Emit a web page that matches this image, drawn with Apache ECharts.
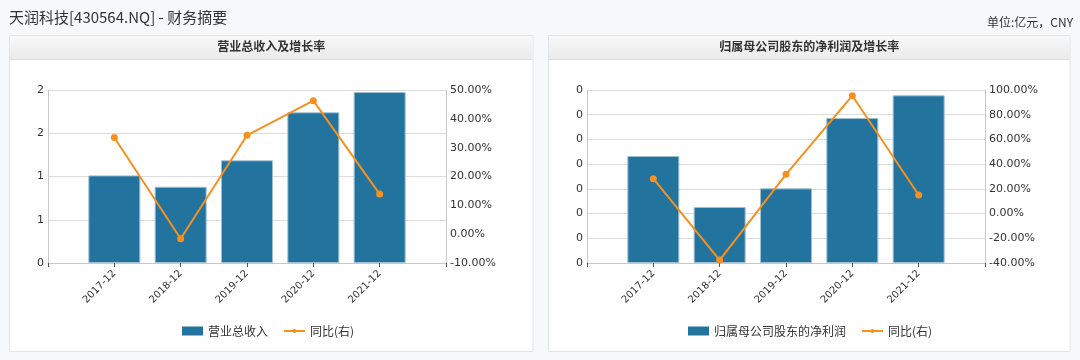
<!DOCTYPE html>
<html><head><meta charset="utf-8">
<script src="https://cdn.jsdelivr.net/npm/echarts@6/dist/echarts.min.js"></script>
<style>html,body{margin:0;padding:0;background:#f6f8fa}#c{width:1080px;height:360px}</style>
</head><body><div id="c"></div>
<script>
// ---- data ----
const years = ['2017-12', '2018-12', '2019-12', '2020-12', '2021-12'];
const revenue = [1.013, 0.882, 1.187, 1.742, 1.977];          // 营业总收入 (亿元)
const revenueYoY = [33.5, -1.6, 34.3, 46.3, 13.9];           // 同比 %
const netProfit = [0.2165, 0.1133, 0.151, 0.2933, 0.3392];    // 归属母公司股东的净利润 (亿元)
const netProfitYoY = [28.2, -37.6, 31.8, 95.4, 15.0];        // 同比 %
const pageTitle = '天润科技[430564.NQ] - 财务摘要';
const unitText = '单位:亿元，CNY';
const chartTitles = ['营业总收入及增长率', '归属母公司股东的净利润及增长率'];
const barNames = ['营业总收入', '归属母公司股东的净利润'];
const lineName = '同比(右)';
const leftAxes = [{min: 0, max: 2, interval: 0.5}, {min: 0, max: 0.35, interval: 0.05}];
const rightAxes = [{min: -10, max: 50, interval: 10}, {min: -40, max: 100, interval: 20}];

// ---- layout / style ----
const BAR = '#22749f', LINE = '#f7901e';
const CJK = '"Noto Sans CJK SC", "Microsoft YaHei", sans-serif';
const LAT = '"DejaVu Sans", Verdana, sans-serif';
const cats = [''].concat(years, ['']);
const pad = a => [null].concat(a, [null]);
const panels = [{x: 9.5, w: 523.5, gl: 48, lg: 182}, {x: 548.5, w: 521.5, gl: 587, lg: 688}];
const gridW = 398;
const lineIcon = 'path://M0,1.1 L21,1.1 L21,2.9 L0,2.9 Z M8.5,2 A2,2 0 1,1 12.5,2 A2,2 0 1,1 8.5,2 Z';

const chart = echarts.init(document.getElementById('c'), null, {renderer: 'canvas'});
const graphics = [];
panels.forEach((p) => {
  graphics.push({type: 'rect', z: -10, shape: {x: p.x, y: 35.5, width: p.w, height: 316},
    style: {fill: '#fff', stroke: '#e1e3e6', lineWidth: 1}});
  graphics.push({type: 'rect', z: -9, shape: {x: p.x + 0.5, y: 36, width: p.w - 1, height: 23},
    style: {fill: new echarts.graphic.LinearGradient(0, 0, 0, 1, [{offset: 0, color: '#f8f8f8'}, {offset: 1, color: '#ebebeb'}])}});
  graphics.push({type: 'line', z: -8, shape: {x1: p.x + 0.5, y1: 59.5, x2: p.x + p.w - 0.5, y2: 59.5},
    style: {stroke: '#dedede', lineWidth: 1}});
});

const titles = [
  {text: pageTitle, left: 9, top: 10, padding: 0, textStyle: {fontFamily: CJK, fontSize: 15, fontWeight: 'normal', color: '#333'}},
  {text: unitText, right: 7, top: 16, padding: 0, textStyle: {fontFamily: CJK, fontSize: 12, fontWeight: 'normal', color: '#333'}},
];
panels.forEach((p, i) => titles.push({text: chartTitles[i], left: p.x + p.w / 2, textAlign: 'center', top: 40, padding: 0,
  textStyle: {fontFamily: CJK, fontSize: 12, fontWeight: 'bold', color: '#333'}}));

const grids = [], xAxes = [], yAxes = [], series = [], legends = [];
panels.forEach((p, i) => {
  grids.push({left: p.gl, width: gridW, top: 90, height: 173});
  xAxes.push({type: 'category', gridIndex: i, data: cats, boundaryGap: false,
    axisLine: {lineStyle: {color: '#c8c8c8'}},
    axisTick: {length: 4, lineStyle: {color: '#555'}},
    axisLabel: {rotate: 45, fontSize: 10, fontFamily: LAT, color: '#333', margin: 9, interval: 0}});
  yAxes.push(Object.assign({type: 'value', gridIndex: i, position: 'left',
    axisLine: {show: true, lineStyle: {color: '#c8c8c8'}}, axisTick: {show: false},
    splitLine: {lineStyle: {color: '#dcdcdc'}},
    axisLabel: {fontSize: 11, fontFamily: LAT, color: '#333', margin: 4, formatter: v => v.toFixed(0)}}, leftAxes[i]));
  yAxes.push(Object.assign({type: 'value', gridIndex: i, position: 'right',
    axisLine: {show: true, lineStyle: {color: '#c8c8c8'}}, axisTick: {show: false}, splitLine: {show: false},
    axisLabel: {fontSize: 11, fontFamily: LAT, color: '#333', margin: 4, formatter: v => v.toFixed(2) + '%'}}, rightAxes[i]));
  series.push({type: 'bar', name: barNames[i], xAxisIndex: i, yAxisIndex: 2 * i, barWidth: 52,
    data: pad(i === 0 ? revenue : netProfit),
    itemStyle: {color: BAR, borderColor: '#9fc0d3', borderWidth: 1}});
  series.push({type: 'line', name: lineName, xAxisIndex: i, yAxisIndex: 2 * i + 1,
    data: pad(i === 0 ? revenueYoY : netProfitYoY), symbol: 'circle', symbolSize: 7,
    lineStyle: {color: LINE, width: 2}, itemStyle: {color: LINE}});
  legends.push({left: p.lg, top: 325, padding: 0, itemWidth: 21, itemHeight: 9, itemGap: 16,
    textStyle: {fontFamily: CJK, fontSize: 12, color: '#333'},
    data: [{name: barNames[i], icon: 'rect', itemStyle: {borderWidth: 0}}, {name: lineName, icon: lineIcon}]});
});

chart.setOption({
  animation: false,
  backgroundColor: '#f6f8fa',
  title: titles,
  graphic: graphics,
  grid: grids, xAxis: xAxes, yAxis: yAxes, series: series, legend: legends
});
</script></body></html>
